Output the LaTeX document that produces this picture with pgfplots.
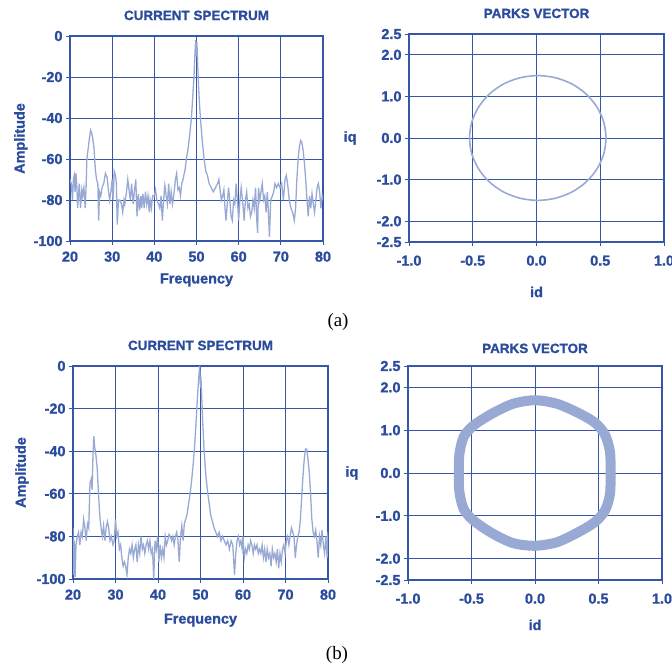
\documentclass[border=0pt]{standalone}
\usepackage{pgfplots}
\pgfplotsset{compat=1.18}
\usepackage{fontspec}
\setmainfont{Liberation Sans}
\newfontfamily\heavy{Liberation Sans Bold}[FakeBold=1.2]
\newfontfamily\capfont{Liberation Serif}

\definecolor{gridblue}{HTML}{3656A8}
\definecolor{txtblue}{HTML}{2B4C9C}
\definecolor{lineblue}{HTML}{98AAD4}

\newcommand{\lblfont}{\heavy\fontsize{14.5}{14.5}\selectfont}
\newcommand{\ttlfont}{\heavy\fontsize{13.5}{13.5}\selectfont}

\pgfplotsset{
  panel/.style={
    scale only axis,
    axis line style={gridblue, line width=1.1bp},
    grid=major,
    grid style={gridblue, line width=0.9bp},
    tick style={gridblue, line width=0.9bp},
    tick align=outside, major tick length=4bp, tick pos=left,
    ticklabel style={font=\lblfont, text=txtblue},
    label style={font=\lblfont, text=txtblue},
    title style={font=\ttlfont, text=txtblue, at={(0.5,1)}, anchor=base, yshift=10bp},
  },
  spec/.style={
    panel,
    xmin=20, xmax=80, ymin=-100, ymax=0,
    xtick={20,30,40,50,60,70,80},
    xticklabels={20,30,40,50,60,70,80},
    ytick={-100,-80,-60,-40,-20,0},
    yticklabels={-100,-80,-60,-40,-20,0},
    xticklabel style={yshift=-3bp},
    title={CURRENT SPECTRUM},
    xlabel={Frequency}, ylabel={Amplitude},
  },
  parks/.style={
    panel,
    xmin=-1, xmax=1, ymin=-2.5, ymax=2.5,
    xtick={-1,-0.5,0,0.5,1},
    xticklabels={-1.0,-0.5,0.0,0.5,1.0},
    ytick={-2.5,-2,-1,0,1,2,2.5},
    yticklabels={-2.5,-2.0,-1.0,0.0,1.0,2.0,2.5},
    xticklabel style={yshift=-6bp},
    title={PARKS VECTOR},
  },
}

\begin{document}
\begin{tikzpicture}
\useasboundingbox (0bp,0bp) rectangle (672bp,670bp);

% (a) spectrum
\begin{axis}[spec, at={(70bp,429bp)}, anchor=south west, width=253bp, height=205bp,
  xlabel style={at={(0.5,-0.19)}, anchor=center},
  ylabel style={at={(-0.194,0.5)}, anchor=center}]
\addplot[lineblue, line width=1.3bp] coordinates {
(20,-70)(20.3,-72)(20.6,-80)(20.8,-70)(21,-68)(21.2,-76)(21.4,-67)(21.6,-72)(21.8,-84)(22,-78)(22.2,-72)(22.5,-84)(22.8,-75)(23,-78)(23.3,-74)(23.6,-84)(23.8,-75)(24,-60)(24.3,-55)(24.6,-50)(24.9,-46)(25.1,-47)(25.4,-50)(25.7,-55)(26,-65)(26.3,-70)(26.6,-72)(26.8,-90)(27,-76)(27.3,-78)(27.6,-74)(28,-72)(28.4,-67)(28.8,-69)(29.1,-75)(29.4,-80)(29.7,-76)(30,-70)(30.2,-80)(30.5,-66)(30.8,-68)(31,-72)(31.2,-92)(31.5,-80)(31.8,-80)(32.2,-82)(32.5,-86)(32.8,-80)(33,-82)(33.4,-76)(33.7,-70)(34,-75)(34.3,-80)(34.6,-72)(35,-82)(35.3,-75)(35.6,-70)(35.9,-88)(36.2,-77)(36.5,-85)(36.8,-78)(37,-84)(37.3,-77)(37.6,-84)(37.9,-76)(38.2,-82)(38.5,-78)(38.8,-86)(39,-80)(39.3,-84)(39.6,-78)(40,-78)(40.3,-75)(40.6,-80)(41,-82)(41.3,-84)(41.6,-78)(41.9,-90)(42.2,-80)(42.5,-73)(42.8,-78)(43.1,-82)(43.4,-72)(43.7,-82)(44,-76)(44.3,-82)(44.6,-78)(45,-70)(45.3,-67)(45.6,-75)(45.9,-74)(46.2,-78)(46.5,-72)(46.8,-70)(47,-68)(47.3,-65)(47.6,-60)(48,-55)(48.4,-48)(48.8,-40)(49.1,-30)(49.4,-20)(49.6,-10)(49.8,-2)(50,-10)(50.1,-3)(50.3,-15)(50.5,-25)(50.7,-33)(51,-42)(51.4,-52)(51.8,-60)(52.2,-66)(52.6,-68)(53,-72)(53.5,-74)(54,-76)(54.5,-74)(55,-72)(55.3,-70)(55.6,-75)(55.9,-80)(56.2,-78)(56.5,-75)(56.8,-85)(57,-90)(57.3,-82)(57.6,-74)(57.9,-80)(58.2,-88)(58.5,-90)(58.8,-80)(59.1,-82)(59.4,-72)(59.7,-80)(60,-90)(60.3,-80)(60.6,-74)(61,-82)(61.3,-90)(61.6,-80)(61.9,-76)(62.2,-84)(62.5,-82)(62.8,-88)(63.1,-86)(63.4,-80)(63.7,-84)(64,-74)(64.3,-90)(64.5,-96)(64.7,-74)(65,-80)(65.3,-76)(65.6,-72)(65.9,-80)(66.2,-78)(66.5,-86)(66.8,-76)(67,-84)(67.3,-98)(67.6,-80)(68,-78)(68.3,-76)(68.6,-72)(69,-74)(69.4,-72)(69.8,-74)(70.2,-72)(70.6,-80)(71,-70)(71.3,-68)(71.6,-72)(72,-80)(72.4,-84)(72.8,-86)(73.2,-90)(73.5,-84)(73.8,-70)(74.1,-60)(74.4,-54)(74.7,-51)(75,-52)(75.3,-56)(75.6,-62)(75.9,-70)(76.2,-80)(76.5,-88)(76.8,-78)(77.1,-84)(77.4,-77)(77.7,-82)(78,-86)(78.3,-80)(78.6,-74)(78.9,-72)(79.2,-76)(79.5,-84)(79.8,-78)(80,-80)
};
\end{axis}

% (a) parks vector
\begin{axis}[parks, at={(409bp,428bp)}, anchor=south west, width=255bp, height=208bp,
  xlabel={id}, ylabel={iq},
  xlabel style={at={(0.5,-0.24)}, anchor=center},
  ylabel style={at={(-0.231,0.5)}, anchor=center, rotate=-90}]
\addplot[lineblue, line width=1.6bp, smooth cycle] coordinates {
(0.545,0)(0.527,0.388)(0.473,0.75)(0.388,1.061)(0.278,1.299)(0.148,1.449)(0.01,1.5)(-0.128,1.449)(-0.258,1.299)(-0.368,1.061)(-0.453,0.75)(-0.507,0.388)(-0.525,0)(-0.507,-0.388)(-0.453,-0.75)(-0.368,-1.061)(-0.258,-1.299)(-0.128,-1.449)(0.01,-1.5)(0.148,-1.449)(0.278,-1.299)(0.388,-1.061)(0.473,-0.75)(0.527,-0.388)
};
\end{axis}

% (b) spectrum
\begin{axis}[spec, at={(73bp,91bp)}, anchor=south west, width=255bp, height=213bp,
  xlabel style={at={(0.5,-0.193)}, anchor=center},
  ylabel style={at={(-0.2,0.5)}, anchor=center}]
\addplot[lineblue, line width=1.3bp] coordinates {
(20,-76)(20.1,-98)(20.3,-82)(20.5,-99)(20.7,-84)(21,-80)(21.3,-78)(21.6,-84)(21.9,-78)(22.2,-80)(22.5,-72)(22.8,-76)(23.1,-82)(23.4,-74)(23.7,-76)(24,-55)(24.3,-53)(24.5,-58)(24.7,-42)(24.9,-33)(25.1,-38)(25.4,-42)(25.7,-48)(26,-60)(26.3,-70)(26.6,-76)(26.9,-80)(27.2,-75)(27.5,-82)(27.8,-76)(28.1,-73)(28.4,-76)(28.7,-82)(29,-80)(29.4,-84)(29.7,-82)(30,-72)(30.3,-80)(30.6,-78)(30.9,-86)(31.2,-84)(31.5,-90)(31.8,-94)(32.1,-92)(32.4,-94)(32.7,-98)(33,-90)(33.3,-86)(33.6,-88)(33.9,-84)(34.2,-90)(34.5,-86)(34.8,-84)(35.1,-92)(35.4,-84)(35.7,-88)(36,-80)(36.3,-86)(36.6,-84)(36.9,-88)(37.2,-84)(37.5,-82)(37.8,-86)(38.1,-82)(38.4,-88)(38.7,-86)(39,-100)(39.3,-82)(39.6,-86)(39.9,-80)(40.2,-92)(40.5,-84)(40.8,-90)(41.1,-86)(41.4,-90)(41.7,-80)(42,-84)(42.3,-82)(42.6,-79)(42.9,-80)(43.2,-82)(43.5,-80)(43.8,-84)(44.1,-80)(44.4,-78)(44.7,-82)(45,-92)(45.3,-80)(45.6,-75)(45.9,-82)(46.2,-74)(46.5,-72)(46.8,-70)(47.1,-66)(47.4,-62)(47.8,-56)(48.2,-48)(48.6,-38)(49,-25)(49.3,-14)(49.6,-5)(49.8,0)(50,-10)(50.1,-5)(50.3,-15)(50.5,-25)(50.8,-38)(51.2,-50)(51.6,-58)(52,-64)(52.4,-70)(52.8,-73)(53.2,-76)(53.6,-78)(54,-80)(54.4,-78)(54.8,-82)(55.2,-80)(55.6,-82)(56,-84)(56.4,-82)(56.8,-86)(57.2,-82)(57.6,-84)(58,-98)(58.3,-88)(58.6,-82)(58.9,-80)(59.2,-84)(59.5,-82)(59.8,-86)(60,-80)(60.3,-90)(60.6,-86)(60.9,-88)(61.2,-84)(61.5,-86)(61.8,-82)(62.1,-84)(62.4,-88)(62.7,-84)(63,-86)(63.3,-84)(63.6,-88)(63.9,-86)(64.2,-88)(64.5,-84)(64.8,-90)(65.1,-86)(65.4,-92)(65.7,-86)(66,-90)(66.3,-88)(66.6,-94)(66.9,-86)(67.2,-90)(67.5,-88)(67.8,-92)(68.1,-86)(68.4,-95)(68.7,-88)(69,-92)(69.3,-86)(69.6,-84)(69.9,-88)(70.2,-82)(70.5,-80)(70.8,-84)(71.1,-80)(71.4,-76)(71.7,-78)(72,-80)(72.3,-90)(72.6,-84)(72.9,-80)(73.2,-78)(73.5,-72)(73.8,-62)(74.1,-52)(74.4,-44)(74.7,-39)(75,-39)(75.3,-44)(75.6,-50)(75.9,-60)(76.2,-72)(76.5,-78)(76.8,-80)(77.1,-77)(77.4,-82)(77.7,-90)(78,-80)(78.3,-84)(78.6,-77)(78.9,-84)(79.2,-88)(79.5,-80)(79.8,-90)(80,-78)
};
\end{axis}

% (b) parks vector
\begin{axis}[parks, at={(408bp,90bp)}, anchor=south west, width=254bp, height=214bp,
  xlabel={id}, ylabel={iq},
  xlabel style={at={(0.5,-0.21)}, anchor=center},
  ylabel style={at={(-0.221,0.5)}, anchor=center, rotate=-90},
  title style={yshift=-3bp}]
\addplot[lineblue, line width=10bp, smooth cycle] coordinates {
(0,1.70)(0.17,1.62)(0.33,1.42)(0.47,1.18)(0.55,0.9)(0.59,0.5)(0.595,0)(0.59,-0.5)(0.55,-0.88)(0.47,-1.15)(0.33,-1.40)(0.17,-1.62)(0,-1.70)(-0.17,-1.64)(-0.33,-1.42)(-0.48,-1.12)(-0.56,-0.85)(-0.595,-0.45)(-0.6,0)(-0.595,0.45)(-0.56,0.85)(-0.48,1.12)(-0.33,1.40)(-0.17,1.62)
};
\end{axis}

\node[font=\capfont\fontsize{19}{19}\selectfont] at (338bp,348bp) {(a)};
\node[font=\capfont\fontsize{19}{19}\selectfont] at (337bp,15bp) {(b)};
\end{tikzpicture}
\end{document}
